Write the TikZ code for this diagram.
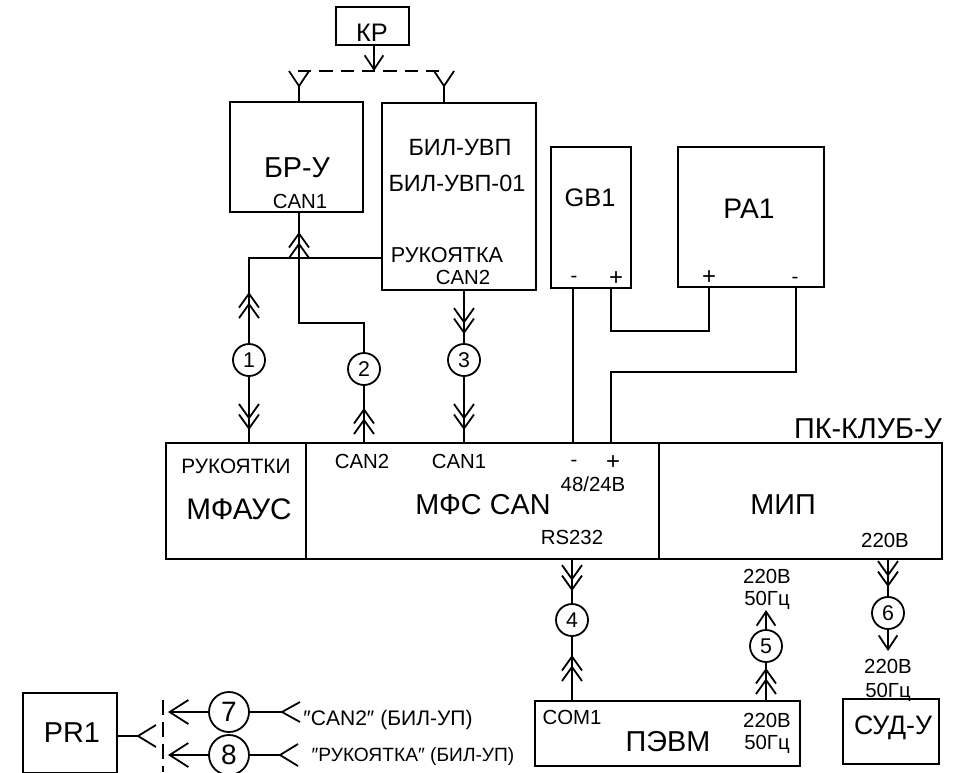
\documentclass[tikz,border=0pt]{standalone}
\usepackage{fontspec}
\setmainfont{Liberation Sans}
\usetikzlibrary{arrows.meta,decorations.markings}
\def\px{0.75pt}
\tikzset{
  blockbox/.style={
    draw=black,
    line width=1.35pt,
    anchor=north west,
    inner sep=0pt,
    outer sep=0pt
  },
  numcircle/.style={
    draw=black,
    line width=1.35pt,
    circle,
    inner sep=0pt,
    minimum size=32*\px,
    font=\fontsize{16}{16}\selectfont
  },
  bigcircle/.style={
    numcircle,
    minimum size=40*\px,
    font=\fontsize{21}{21}\selectfont
  },
  biglabel/.style={font=\fontsize{21.6}{22}\selectfont, inner sep=0pt},
  midlabel/.style={font=\fontsize{18}{20}\selectfont, inner sep=0pt},
  smalllabel/.style={font=\fontsize{15.3}{16}\selectfont, inner sep=0pt},
  wire/.style={line width=1.35pt},
  barb/.tip={Straight Barb[length=10.5pt,width=14pt]},
  dblbarb/.tip={Straight Barb[length=10.5pt,width=15pt,sep=-4.5pt] Straight Barb[length=10.5pt,width=15pt]},
  dblmark/.style={
    postaction={decorate},
    decoration={markings, mark=at position #1*\px with {\arrow{dblbarb}}}
  }
}
\begin{document}
\begin{tikzpicture}[x=0.75pt,y=-0.75pt]
    \useasboundingbox (0,0) rectangle (966,772);

    % upper blocks
    \node[blockbox, minimum width=73*\px, minimum height=38*\px] (kr) at (336,7) {};
    \node[blockbox, minimum width=133*\px, minimum height=110*\px] (bru) at (230,102) {};
    \node[blockbox, minimum width=154*\px, minimum height=187*\px] (bil) at (382,103) {};
    \node[blockbox, minimum width=80*\px, minimum height=141*\px] (gb) at (551,147) {};
    \node[blockbox, minimum width=146*\px, minimum height=140*\px] (pa) at (678,147) {};

    % main unit
    \node[blockbox, minimum width=140*\px, minimum height=116*\px] (mfaus) at (166,443) {};
    \node[blockbox, minimum width=353*\px, minimum height=116*\px] (mfs) at (306,443) {};
    \node[blockbox, minimum width=283*\px, minimum height=116*\px] (mip) at (659,443) {};

    % lower blocks
    \node[blockbox, minimum width=265*\px, minimum height=65*\px] (pevm) at (535,701) {};
    \node[blockbox, minimum width=96*\px, minimum height=65*\px] (sud) at (843,699) {};
    \node[blockbox, minimum width=94*\px, minimum height=80*\px] (pr) at (23,693) {};

    % numbered circles
    \node[numcircle] (n1) at (249,360) {1};
    \node[numcircle] (n2) at (364,369) {2};
    \node[numcircle] (n3) at (464,360) {3};
    \node[numcircle] (n4) at (572,620) {4};
    \node[numcircle] (n5) at (766,646) {5};
    \node[numcircle] (n6) at (888,613) {6};
    \node[bigcircle] (n7) at (229,712) {7};
    \node[bigcircle] (n8) at (229,755) {8};

    % block texts
    \node[font=\fontsize{19}{20}\selectfont, inner sep=0pt] (krtext) at (372,33) {КР};
    \node[biglabel] (brutext) at (297,168) {БР-У};
    \node[smalllabel] (brucan) at (300,201) {CAN1};
    \node[font=\fontsize{17.6}{18}\selectfont, inner sep=0pt] (biltext) at (460,148) {БИЛ-УВП};
    \node[font=\fontsize{17.6}{18}\selectfont, inner sep=0pt] (biltexttwo) at (457,183) {БИЛ-УВП-01};
    \node[font=\fontsize{16.2}{17}\selectfont, inner sep=0pt] (bilruk) at (447,255) {РУКОЯТКА};
    \node[smalllabel] (bilcan) at (463,277) {CAN2};
    \node[font=\fontsize{19}{20}\selectfont, inner sep=0pt] (gbtext) at (590,198) {GB1};
    \node[smalllabel] (gbminus) at (574,279) {-};
    \node[midlabel] (gbplus) at (616,279) {+};
    \node[font=\fontsize{21.2}{22}\selectfont, inner sep=0pt] (patext) at (749,209) {PA1};
    \node[midlabel] (paplus) at (709,278) {+};
    \node[smalllabel] (paminus) at (795,280) {-};
    \node[biglabel] (pktext) at (868,429) {ПК-КЛУБ-У};
    \node[font=\fontsize{15.6}{16}\selectfont, inner sep=0pt] (mfausruk) at (236,466) {РУКОЯТКИ};
    \node[font=\fontsize{22.3}{23}\selectfont, inner sep=0pt] (mfaustext) at (239,509) {МФАУС};
    \node[smalllabel] (mfscantwo) at (362,461) {CAN2};
    \node[smalllabel] (mfscanone) at (459,461) {CAN1};
    \node[smalllabel] (mfsminus) at (574,463) {-};
    \node[midlabel] (mfsplus) at (613,463) {+};
    \node[smalllabel] (mfsvolt) at (593,484) {48/24В};
    \node[biglabel] (mfstext) at (483,505) {МФС CAN};
    \node[smalllabel] (mfsrs) at (572,537) {RS232};
    \node[biglabel] (miptext) at (783,505) {МИП};
    \node[smalllabel] (mipvolt) at (885,540) {220В};
    \node[smalllabel] (fivevolt) at (767,576) {220В};
    \node[smalllabel] (fivefreq) at (767,600) {50Гц};
    \node[smalllabel] (sixvolt) at (888,666) {220В};
    \node[smalllabel] (sixfreq) at (888,692) {50Гц};
    \node[smalllabel] (pevmcom) at (572,717) {COM1};
    \node[smalllabel] (pevmvolt) at (767,720) {220В};
    \node[smalllabel] (pevmfreq) at (767,744) {50Гц};
    \node[biglabel] (pevmtext) at (668,742) {ПЭВМ};
    \node[font=\fontsize{20}{20}\selectfont, inner sep=0pt] (sudtext) at (893,728) {СУД-У};
    \node[biglabel] (prtext) at (72,733) {PR1};
    \node[font=\fontsize{15.8}{16}\selectfont, inner sep=0pt] (cantext) at (388,720) {″CAN2″ (БИЛ-УП)};
    \node[font=\fontsize{14.4}{15}\selectfont, inner sep=0pt] (ruktext) at (413,757) {″РУКОЯТКА″ (БИЛ-УП)};

    % free ends
    \coordinate (rk) at (382,258);
    \coordinate (bend) at (299,323);
    \coordinate (krdrop) at (374,71);
    \coordinate (antl) at (299,86);
    \coordinate (antr) at (444,86);
    \coordinate (dashl) at (298,71);
    \coordinate (dashr) at (445,71);
    \coordinate (top) at (766,610);
    \coordinate (low) at (888,651);
    \coordinate (prplug) at (138,736);
    \coordinate (sockseven) at (168,712);
    \coordinate (sockeight) at (168,755);
    \coordinate (plugseven) at (282,712);
    \coordinate (plugeight) at (280,755);
    \coordinate (gbwire) at (611,331);
    \coordinate (pawire) at (796,372);

    % radio link
    \draw[wire, -{barb}] (krdrop |- kr.south) -- (krdrop);
    \draw[wire, dash pattern=on 10pt off 6pt] (dashl) -- (dashr);
    \draw[wire] (antl |- bru.north) -- (antl) -- ++(-10,-15) (antl) -- ++(10,-15);
    \draw[wire] (antr |- bil.north) -- (antr) -- ++(-10,-15) (antr) -- ++(10,-15);

    % connectors with double arrows
    \draw[wire, dblmark=51] (n1) |- (rk);
    \draw[wire, dblmark=-13] (n1) -- (n1 |- mfaus.north);
    \draw[wire, dblmark=-20] (n2) |- (bend) -- (bend |- bru.south);
    \draw[wire, dblmark=35] (n2 |- mfs.north) -- (n2);
    \draw[wire, dblmark=-9] (n3 |- bil.south) -- (n3);
    \draw[wire, dblmark=-13] (n3) -- (n3 |- mfs.north);
    \draw[wire, dblmark=-12] (n4 |- mfs.south) -- (n4);
    \draw[wire, dblmark=46] (n4 |- pevm.north) -- (n4);
    \draw[wire, dblmark=33] (n5 |- pevm.north) -- (n5);
    \draw[wire, -{barb}] (n5) -- (top);
    \draw[wire, dblmark=-9] (n6 |- mip.south) -- (n6);
    \draw[wire, -{barb}] (n6) -- (low);

    % power wires
    \draw[wire] (573,288) coordinate (gbminusw) -- (gbminusw |- mfs.north);
    \draw[wire] (gbwire |- gb.south) -- (gbwire) -| (paplus.south |- pa.south);
    \draw[wire] (pawire |- pa.south) -- (pawire) -| (gbwire |- mfs.north);

    % test connectors
    \draw[wire] (pr.east |- prplug) -- (prplug) -- ++(18,-11) (prplug) -- ++(18,11);
    \draw[wire, dash pattern=on 11pt off 5.5pt] (163,700) coordinate (sockline) -- (sockline |- 0,772);
    \draw[wire, -{Straight Barb[length=14pt,width=18pt]}] (n7) -- (sockseven);
    \draw[wire, -{Straight Barb[length=14pt,width=18pt]}] (n8) -- (sockeight);
    \draw[wire] (n7) -- (plugseven) -- ++(18,-10) (plugseven) -- ++(18,10);
    \draw[wire] (n8) -- (plugeight) -- ++(18,-11) (plugeight) -- ++(18,11);
\end{tikzpicture}
\end{document}
